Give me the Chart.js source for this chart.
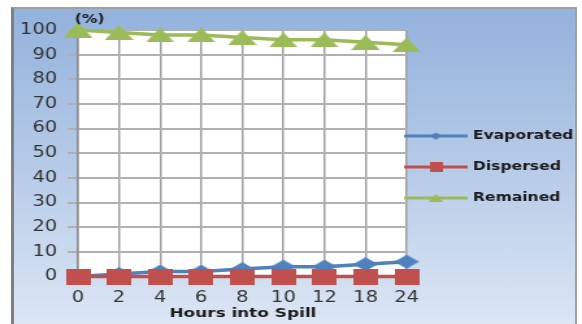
<!DOCTYPE html>
<html>
<head>
<meta charset="utf-8">
<script src="https://cdn.jsdelivr.net/npm/chart.js@4.4.1/dist/chart.umd.min.js"></script>
<style>
  html, body { margin: 0; padding: 0; background: #fff; }
  body { width: 582px; height: 324px; position: relative; overflow: hidden; }
  #frame {
    position: absolute; left: 11px; top: 7px; width: 561px; height: 320px;
    border: 2px solid #a0a0a0; border-left: 3px solid #7f7f7f;
    background: linear-gradient(to bottom, #93b2dc 0%, #b6cbe8 50%, #dde7f4 100%);
  }
  #chart { position: absolute; left: 0; top: 0; }
</style>
</head>
<body>
<div id="frame"></div>
<canvas id="chart" width="448" height="324" style="width:582px;height:324px"></canvas>
<script>
// source picture is stretched sideways, so the canvas is drawn narrow and widened by css
const hours = ['0', '2', '4', '6', '8', '10', '12', '18', '24'];
const evaporated = [0, 1, 2, 2, 3, 4, 4, 5, 6];
const dispersed = [0, 0, 0, 0, 0, 0, 0, 0, 0];
const remained = [100, 99, 98, 98, 97, 96, 96, 95, 94];
const yTicks = [0, 10, 20, 30, 40, 50, 60, 70, 80, 90, 100];

const BLUE = '#4f81bd', RED = '#c0504d', GREEN = '#9bbb59';

// marker images (logical px, widened 1.3x on screen)
function marker(shape, w, h, color) {
    const c = document.createElement('canvas');
    c.width = w; c.height = h;
    const g = c.getContext('2d');
    g.fillStyle = color;
    g.beginPath();
    if (shape === 'diamond') {
        g.moveTo(w / 2, 0); g.lineTo(w, h / 2); g.lineTo(w / 2, h); g.lineTo(0, h / 2);
    } else if (shape === 'triangle') {
        g.moveTo(w / 2, 0); g.lineTo(w, h); g.lineTo(0, h);
    } else {
        g.rect(0, 0, w, h);
    }
    g.closePath();
    g.fill();
    return c;
}

const series = [
    { label: 'Evaporated', data: evaporated, color: BLUE, big: marker('diamond', 19, 14, BLUE), small: marker('diamond', 9, 7, BLUE) },
    { label: 'Dispersed', data: dispersed, color: RED, big: marker('square', 19, 16, RED), small: marker('square', 10, 10, RED) },
    { label: 'Remained', data: remained, color: GREEN, big: marker('triangle', 22, 15, GREEN), small: marker('triangle', 11, 8, GREEN) }
];

const extras = {
    id: 'extras',
    beforeDraw(chart) {
        const { ctx, chartArea: a } = chart;
        ctx.save();
        ctx.fillStyle = '#ffffff';
        ctx.fillRect(a.left, a.top, a.right - a.left, a.bottom - a.top);
        ctx.restore();
    },
    afterDraw(chart) {
        const ctx = chart.ctx;
        ctx.save();
        ctx.fillStyle = '#1a1a1a';
        ctx.textBaseline = 'middle';
        ctx.font = 'bold 12px "DejaVu Sans"';
        ctx.textAlign = 'center';
        ctx.fillText('(%)', 69, 20);
        ctx.font = 'bold 13px "DejaVu Sans"';
        ctx.fillText('Hours into Spill', 187, 314);

        // legend
        ctx.textAlign = 'left';
        ctx.font = 'bold 12px "DejaVu Sans"';
        series.forEach((s, i) => {
            const y = 136 + i * 31;
            ctx.strokeStyle = s.color;
            ctx.lineWidth = 3;
            ctx.beginPath();
            ctx.moveTo(311, y);
            ctx.lineTo(360, y);
            ctx.stroke();
            ctx.drawImage(s.small, 335.5 - s.small.width / 2, y - s.small.height / 2);
            ctx.fillStyle = '#1a1a1a';
            ctx.fillText(s.label, 364, y);
        });
        ctx.restore();
    }
};

new Chart(document.getElementById('chart'), {
    type: 'line',
    data: {
        labels: hours,
        datasets: series.map((s, i) => ({
            label: s.label,
            data: s.data,
            borderColor: s.color,
            backgroundColor: s.color,
            borderWidth: 3.5,
            pointStyle: s.big,
            pointRadius: 8,
            clip: false,
            order: 2 - i
        }))
    },
    options: {
        responsive: false,
        animation: false,
        layout: { padding: { left: 0, top: 30, right: 135, bottom: 0 } },
        plugins: {
            legend: { display: false },
            tooltip: { enabled: false }
        },
        scales: {
            x: {
                offset: false,
                afterFit: (s) => { s.height = 47.5; },
                grid: { color: '#a0a0a0', lineWidth: 1.5, tickLength: 8, drawTicks: true },
                border: { color: '#8c8c8c', width: 2 },
                ticks: {
                    padding: 5,
                    color: '#333',
                    font: { family: 'DejaVu Sans', size: 15 }
                }
            },
            y: {
                min: 0,
                max: 100,
                afterFit: (s) => { s.width = 60; },
                afterBuildTicks: (s) => { s.ticks = yTicks.map(v => ({ value: v })); },
                grid: { color: '#b0b0b0', lineWidth: 2, tickLength: 8 },
                border: { color: '#8c8c8c', width: 1.5 },
                ticks: {
                    padding: 8,
                    color: '#333',
                    font: { family: 'DejaVu Sans', size: 15 }
                }
            }
        }
    },
    plugins: [extras]
});
</script>
</body>
</html>
